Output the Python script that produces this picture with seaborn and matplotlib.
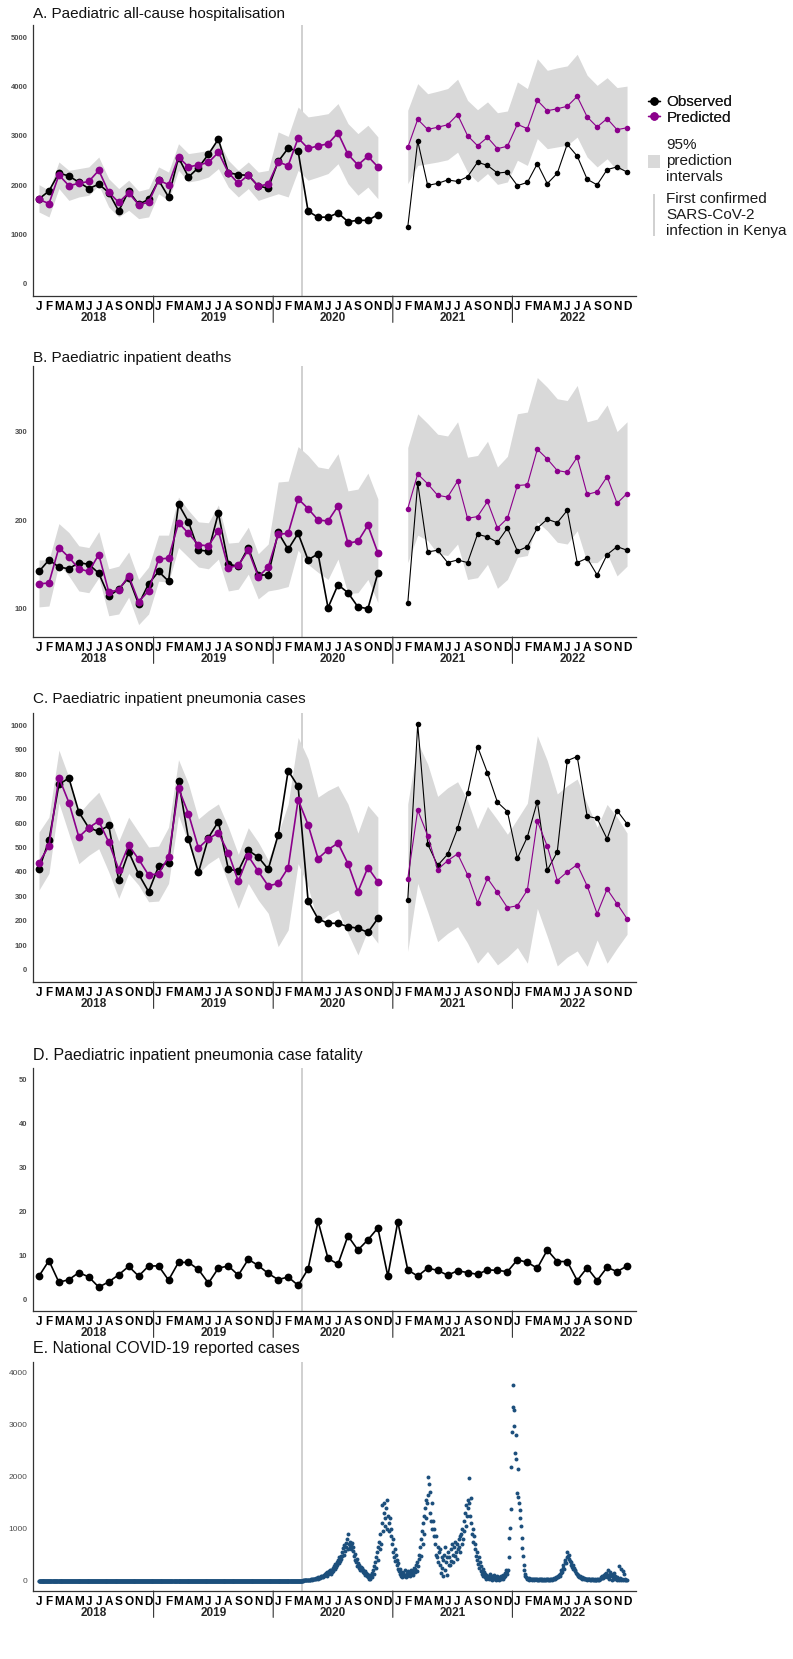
import numpy as np
import pandas as pd
import matplotlib
matplotlib.use("Agg")
import matplotlib.pyplot as plt
import seaborn as sns
from matplotlib.lines import Line2D
from matplotlib.patches import Patch

sns.set_theme(style="white")
plt.rcParams["font.family"] = ["Liberation Sans", "DejaVu Sans"]
FAMILY = ["Liberation Sans", "DejaVu Sans"]

nan = np.nan
PURPLE = "#8b008b"
RIBBON = "#d9d9d9"
VLINE = "#c8c8c8"
DOTS = "#1c4f7c"

month_letters = ["J", "F", "M", "A", "M", "J", "J", "A", "S", "O", "N", "D"]
year_labels = ["2018", "2019", "2020", "2021", "2022"]
first_case_date = "2020-03-13"

# A. all-cause hospitalisation (Jan 2018 - Dec 2022, gap Dec 2020 - Jan 2021)
hosp_observed = [1720, 1880, 2245, 2185, 2060, 1930, 2020, 1850, 1475, 1880, 1610, 1710,
                 2100, 1760, 2560, 2165, 2355, 2625, 2935, 2255, 2210, 2200, 1980, 1940,
                 2480, 2750, 2690, 1470, 1350, 1350, 1435, 1260, 1285, 1285, 1400, nan,
                 nan, 1150, 2895, 1995, 2035, 2105, 2075, 2170, 2465, 2400, 2245, 2265,
                 1990, 2055, 2435, 2030, 2240, 2830, 2590, 2120, 2005, 2315, 2370, 2265]
hosp_predicted = [1710, 1625, 2205, 1990, 2035, 2075, 2300, 1855, 1650, 1840, 1605, 1650,
                  2100, 2010, 2570, 2370, 2410, 2460, 2665, 2255, 2035, 2205, 1980, 2020,
                  2470, 2395, 2955, 2745, 2795, 2840, 3060, 2625, 2410, 2585, 2370, nan,
                  nan, 2765, 3335, 3130, 3175, 3225, 3430, 3005, 2800, 2970, 2740, 2790,
                  3235, 3145, 3720, 3510, 3550, 3600, 3800, 3385, 3180, 3350, 3125, 3165]
hosp_lower = [1455, 1355, 1930, 1690, 1760, 1795, 1995, 1555, 1355, 1490, 1320, 1355,
              1825, 1690, 2300, 2065, 2100, 2165, 2335, 1960, 1760, 1930, 1690, 1760,
              1825, 1760, 2300, 2100, 2165, 2235, 2435, 2030, 1795, 1960, 1725, nan,
              nan, 2030, 2400, 2435, 2470, 2515, 2670, 2265, 2065, 2235, 2015, 2065,
              2505, 2400, 2945, 2740, 2775, 2810, 2975, 2570, 2370, 2535, 2300, 2335]
hosp_upper = [2010, 1895, 2470, 2300, 2335, 2370, 2570, 2130, 1930, 2100, 1880, 1930,
              2370, 2265, 2840, 2640, 2670, 2705, 2910, 2505, 2300, 2470, 2265, 2300,
              3080, 2990, 3585, 3385, 3415, 3450, 3655, 3250, 3045, 3215, 2980, nan,
              nan, 3520, 4060, 3855, 3905, 3960, 4150, 3720, 3530, 3690, 3470, 3505,
              4095, 3960, 4565, 4330, 4380, 4420, 4655, 4230, 4025, 4180, 3980, 4010]

# B. inpatient deaths
deaths_observed = [142, 155, 147, 145, 152, 150, 140, 114, 122, 135, 105, 128,
                   142, 131, 218, 198, 166, 165, 208, 150, 148, 169, 138, 138,
                   186, 167, 185, 155, 162, 101, 127, 118, 102, 100, 140, nan,
                   nan, 106, 242, 164, 166, 152, 155, 152, 184, 181, 175, 191,
                   165, 170, 191, 201, 197, 211, 152, 157, 138, 161, 170, 166]
deaths_predicted = [128, 129, 169, 158, 145, 142, 161, 119, 121, 137, 108, 120,
                    156, 157, 197, 185, 172, 171, 188, 146, 149, 166, 136, 147,
                    184, 185, 224, 213, 200, 199, 216, 174, 176, 194, 163, nan,
                    nan, 213, 252, 241, 228, 226, 244, 202, 204, 221, 191, 202,
                    239, 240, 280, 269, 256, 254, 271, 229, 232, 249, 219, 230]
deaths_lower = [102, 103, 150, 137, 120, 118, 135, 92, 94, 113, 82, 94,
                131, 130, 169, 158, 147, 145, 156, 120, 122, 139, 111, 120,
                122, 125, 166, 150, 141, 133, 156, 117, 118, 133, 107, nan,
                nan, 152, 183, 177, 162, 160, 173, 133, 135, 150, 123, 133,
                158, 160, 198, 188, 175, 173, 188, 152, 152, 162, 137, 148]
deaths_upper = [155, 155, 196, 186, 171, 169, 187, 145, 148, 164, 133, 147,
                183, 183, 226, 211, 198, 197, 217, 174, 175, 192, 162, 173,
                243, 244, 283, 273, 260, 258, 275, 233, 235, 253, 224, nan,
                nan, 282, 320, 309, 297, 295, 311, 271, 273, 289, 260, 272,
                320, 322, 361, 350, 337, 335, 352, 311, 314, 330, 300, 311]

# C. inpatient pneumonia cases
pneu_observed = [411, 529, 758, 784, 645, 580, 566, 590, 366, 482, 391, 319,
                 423, 438, 772, 536, 398, 540, 606, 411, 404, 488, 461, 411,
                 552, 814, 750, 282, 208, 190, 190, 176, 170, 153, 210, nan,
                 nan, 285, 1004, 514, 427, 472, 578, 722, 913, 805, 685, 647,
                 456, 543, 688, 407, 482, 855, 872, 628, 619, 535, 651, 597]
pneu_predicted = [438, 506, 786, 684, 543, 581, 608, 522, 410, 509, 452, 387,
                  393, 461, 742, 638, 498, 536, 560, 478, 362, 465, 403, 343,
                  353, 417, 696, 593, 455, 491, 518, 434, 319, 418, 360, nan,
                  nan, 372, 653, 548, 410, 446, 474, 389, 274, 374, 316, 254,
                  262, 326, 608, 505, 365, 400, 430, 343, 229, 330, 270, 209]
pneu_lower = [326, 394, 682, 556, 434, 468, 495, 400, 292, 394, 346, 278,
              281, 353, 631, 516, 394, 434, 461, 353, 251, 353, 285, 231,
              95, 163, 434, 339, 190, 224, 244, 149, 61, 163, 109, nan,
              nan, 75, 353, 237, 115, 149, 176, 109, 27, 75, 20, 52,
              91, 27, 251, 136, 16, 52, 77, 14, 122, 27, 88, 145]
pneu_upper = [563, 624, 898, 787, 638, 685, 726, 638, 526, 624, 563, 502,
              506, 583, 859, 760, 617, 651, 678, 583, 472, 581, 522, 448,
              556, 678, 950, 862, 706, 733, 753, 678, 559, 672, 624, nan,
              nan, 678, 929, 841, 709, 744, 769, 692, 577, 668, 613, 554,
              617, 681, 957, 855, 719, 753, 780, 678, 583, 676, 624, 559]

# D. pneumonia case fatality (%)
cfr_observed = [5.4, 8.9, 4.0, 4.6, 6.2, 5.2, 2.9, 4.1, 5.7, 7.6, 5.4, 7.7,
                7.7, 4.5, 8.5, 8.5, 6.9, 3.8, 7.2, 7.7, 5.6, 9.2, 7.8, 6.0,
                4.6, 5.2, 3.3, 7.0, 17.8, 9.4, 8.1, 14.5, 11.3, 13.6, 16.3, 5.4,
                17.7, 6.8, 5.4, 7.2, 6.7, 5.6, 6.6, 6.2, 5.8, 6.8, 6.7, 6.4,
                9.1, 8.5, 7.2, 11.3, 8.7, 8.7, 4.4, 7.3, 4.4, 7.4, 6.4, 7.7]

# E. national COVID-19 cases, read every second day
cases_wave1_start = "2020-03-13"
cases_wave1 = [0, 1, 3, 2, 6, 4, 9, 5, 12, 8, 15, 10, 20, 13, 25,
               18, 30, 22, 40, 28, 35, 50, 30, 45, 60, 38, 55, 70, 45, 80,
               60, 95, 70, 110, 85, 130, 100, 150, 90, 160, 120, 180, 140, 200, 130,
               210, 160, 250, 190, 280, 230, 320, 260, 350, 300, 400, 340, 450, 380, 480,
               420, 550, 470, 620, 500, 680, 560, 720, 640, 800, 600, 890, 700, 650, 750,
               680, 600, 720, 560, 650, 480, 520, 400, 350, 420, 280, 330, 250, 300, 200,
               260, 200, 240, 170, 210, 150, 180, 110, 140, 90, 120, 60, 100, 40, 80,
               30, 110, 60, 150, 200, 120, 280, 350, 250, 450, 550, 400, 650, 750, 600,
               900, 700, 1100, 1450, 950, 1300, 1500, 1050, 1200, 1400, 1550, 1000, 1250, 1100, 950,
               1200, 850, 1000, 700, 550, 800, 450, 600, 380, 500, 300, 400, 220, 330, 180,
               120, 230, 90, 170, 60, 150, 110, 80, 200, 100, 60, 140, 90, 180, 120,
               150, 90, 200, 130, 180, 110, 250, 160, 220, 300, 190, 350, 280, 420, 500]
cases_wave2_start = "2021-03-08"
cases_wave2 = [650, 480, 800, 950, 700, 1100, 1250, 900, 1400, 1550, 1200, 1500, 2000, 1650, 1850,
               1700, 1300, 1150, 1500, 1000, 1150, 850, 1000, 700, 500, 850, 450, 650, 350, 550,
               300, 600, 150, 450, 250, 80, 400, 500, 200, 650, 350, 100, 450, 550, 300,
               450, 300, 600, 380, 700, 500, 350, 650, 480, 750, 550, 420, 700, 600, 800,
               650, 850, 550, 900, 700, 1000, 800, 1150, 950, 1300, 1050, 1450, 1250, 1550, 1400,
               1980, 1500, 1250, 1580, 1100, 900, 1000, 750, 850, 600, 700, 480, 550, 400, 320,
               450, 250, 350, 180, 280, 120, 220, 90, 160, 60, 130, 40, 100, 70, 50,
               90, 30, 60, 120, 40, 80, 20, 60, 100, 30, 50, 70, 20, 40, 80,
               30, 60, 20, 50, 90, 30, 70, 40, 110, 60, 150, 90, 200, 120, 180,
               200, 450, 810, 1020, 1370, 2180, 2860, 3755, 3330, 2970, 3280, 2450, 2800, 2340, 1680,
               2140, 1610, 1500, 1360, 1210, 1050, 810, 630, 470, 300, 200, 130, 90, 60, 50]
cases_wave3_start = "2022-02-01"
cases_wave3 = [40, 30, 50, 20, 40, 30, 20, 35, 25, 40, 20, 30, 25, 20, 30,
               20, 30, 15, 25, 20, 30, 18, 25, 20, 15, 30, 20, 25, 18, 22,
               20, 25, 15, 30, 20, 25, 35, 20, 40, 30, 50, 35, 60, 45, 70,
               80, 60, 100, 130, 90, 150, 200, 160, 250, 300, 220, 350, 400, 330, 450,
               550, 480, 420, 500, 380, 300, 350, 260, 300, 220, 250, 180, 200, 150, 130,
               120, 90, 100, 70, 80, 60, 50, 70, 40, 50, 30, 45, 35, 25, 40,
               30, 20, 35, 25, 30, 20, 25, 15, 30, 20, 25, 20, 15, 25, 20,
               20, 25, 15, 30, 20, 40, 30, 60, 45, 80, 50, 100, 70, 120, 90,
               150, 60, 200, 110, 40, 170, 90, 130, 20, 100, 60, 150, 30, 80, 50,
               40, 20, 60, 30, 10, 280, 50, 20, 230, 40, 10, 180, 130, 30, 20,
               10, 5]


def month_index(dates):
    d = pd.DatetimeIndex(dates)
    return np.asarray((d.year - 2018) * 12 + (d.month - 1) + (d.day - 1) / d.days_in_month)


def monthly_frame(observed, predicted, lower, upper):
    df = pd.DataFrame({"m": np.arange(60), "Observed": observed, "Predicted": predicted,
                       "lo": lower, "hi": upper})
    df["period"] = np.where(df["m"] < 36, "before", "after")
    return df


def draw_model_panel(ax, df):
    for period, msize, lw in [("before", 5.6, 1.2), ("after", 4.0, 0.8)]:
        seg = df[df["period"] == period].dropna()
        ax.fill_between(seg["m"], seg["lo"], seg["hi"], color=RIBBON, lw=0, zorder=1)
        sns.lineplot(data=seg, x="m", y="Observed", color="black", marker="o",
                     markersize=msize, markeredgewidth=0, linewidth=lw,
                     estimator=None, ax=ax, zorder=3)
        sns.lineplot(data=seg, x="m", y="Predicted", color=PURPLE, marker="o",
                     markersize=msize, markeredgewidth=0, linewidth=lw,
                     estimator=None, ax=ax, zorder=4)


def style_axes(ax, yticks, ylim, title, title_off, title_size=11, ysize=5.5, ybold=True):
    ax.set_xlim(-0.6, 59.9)
    ax.set_ylim(ylim)
    ax.set_xlabel("")
    ax.set_ylabel("")
    ax.set_xticks(np.arange(60))
    ax.set_xticklabels(month_letters * 5, fontsize=8.5, fontweight="bold", family=FAMILY)
    ax.set_yticks(yticks)
    ax.set_yticklabels([str(v) for v in yticks], fontsize=ysize,
                       fontweight="bold" if ybold else "normal", family=FAMILY)
    ax.tick_params(axis="x", length=2.5, width=0.6, pad=1, color="#333333", labelcolor="black")
    ax.tick_params(axis="y", length=2.5, width=0.6, pad=1.5, color="#333333", labelcolor="#4d4d4d")
    sns.despine(ax=ax)
    for side in ["left", "bottom"]:
        ax.spines[side].set_color("#333333")
        ax.spines[side].set_linewidth(0.9)
    ax.grid(False)
    ax.axvline(month_index([first_case_date])[0], color=VLINE, lw=1.2, zorder=0)
    for i, yr in enumerate(year_labels):
        ax.annotate(yr, xy=(5.5 + 12 * i, 0), xycoords=("data", "axes fraction"),
                    xytext=(0, -11.5), textcoords="offset points", ha="center", va="top",
                    fontsize=8.5, fontweight="bold", family=FAMILY)
    for b in [11.5, 23.5, 35.5, 47.5]:
        ax.annotate("", xy=(b, 0), xycoords=("data", "axes fraction"),
                    xytext=(0, -19), textcoords="offset points",
                    arrowprops=dict(arrowstyle="-", color="#333333", lw=0.8,
                                    shrinkA=0, shrinkB=0))
    ax.annotate(title, xy=(0, 1), xycoords="axes fraction", xytext=(0, title_off),
                textcoords="offset points", ha="left", va="center",
                fontsize=title_size, family=FAMILY, color="#111111")


W, H = 793, 1659
fig = plt.figure(figsize=(W / 100, H / 100), dpi=100)


def add_axes(top, bottom, left=33, width=603):
    return fig.add_axes([left / W, 1 - bottom / H, width / W, (bottom - top) / H])


# A
ax_a = add_axes(25, 296)
draw_model_panel(ax_a, monthly_frame(hosp_observed, hosp_predicted, hosp_lower, hosp_upper))
style_axes(ax_a, [0, 1000, 2000, 3000, 4000, 5000], (-250, 5250),
           "A. Paediatric all-cause hospitalisation", 8)

# B
ax_b = add_axes(366, 637)
draw_model_panel(ax_b, monthly_frame(deaths_observed, deaths_predicted, deaths_lower, deaths_upper))
style_axes(ax_b, [100, 200, 300], (68, 374), "B. Paediatric inpatient deaths", 6)

# C
ax_c = add_axes(713, 982)
draw_model_panel(ax_c, monthly_frame(pneu_observed, pneu_predicted, pneu_lower, pneu_upper))
style_axes(ax_c, list(range(0, 1001, 100)), (-50, 1050),
           "C. Paediatric inpatient pneumonia cases", 10)

# D
ax_d = add_axes(1068, 1311)
cfr = pd.DataFrame({"m": np.arange(60), "cfr": cfr_observed})
sns.lineplot(data=cfr, x="m", y="cfr", color="black", marker="o", markersize=5.6,
             markeredgewidth=0, linewidth=1.2, estimator=None, ax=ax_d, zorder=3)
style_axes(ax_d, [0, 10, 20, 30, 40, 50], (-2.5, 52.5),
           "D. Paediatric inpatient pneumonia case fatality", 9, title_size=11.5)

# E
ax_e = add_axes(1362, 1591)
pre_dates = pd.date_range("2018-01-01", "2020-03-12", freq="D")
segments = [pd.DataFrame({"date": pre_dates, "cases": [0] * len(pre_dates)})]
for start, vals in [(cases_wave1_start, cases_wave1), (cases_wave2_start, cases_wave2),
                    (cases_wave3_start, cases_wave3)]:
    segments.append(pd.DataFrame({"date": pd.date_range(start, periods=len(vals), freq="2D"),
                                  "cases": vals}))
covid = pd.concat(segments, ignore_index=True)
covid["m"] = month_index(covid["date"])
sns.scatterplot(data=covid, x="m", y="cases", color=DOTS, s=8, linewidth=0, ax=ax_e, zorder=3)
style_axes(ax_e, [0, 1000, 2000, 3000, 4000], (-200, 4200),
           "E. National COVID-19 reported cases", 10, title_size=11.5,
           ysize=6, ybold=False)

# legend beside panel A
h1 = [Line2D([0], [0], color="black", marker="o", markersize=5, lw=1),
      Line2D([0], [0], color=PURPLE, marker="o", markersize=5, lw=1)]
leg1 = fig.legend(h1, ["Observed", "Predicted"], loc="upper left",
                  bbox_to_anchor=(648 / W, 1 - 95 / H), frameon=False, fontsize=11,
                  handlelength=0.8, handletextpad=0.4, labelspacing=0.1,
                  borderpad=0, borderaxespad=0)
h2 = [Patch(facecolor=RIBBON, edgecolor="none"),
      Line2D([0], [0], color=VLINE, marker="|", markersize=30, markeredgewidth=1.2,
             linestyle="None")]
leg2 = fig.legend(h2, ["95%\nprediction\nintervals", "First confirmed\nSARS-CoV-2\ninfection in Kenya"],
                  loc="upper left", bbox_to_anchor=(648 / W, 1 - 138 / H), frameon=False,
                  fontsize=11, handlelength=0.8, handleheight=0.9, handletextpad=0.4,
                  labelspacing=0.5, borderpad=0, borderaxespad=0)
fig.add_artist(leg1)
for t in leg1.get_texts() + leg2.get_texts():
    t.set_color("#1a1a1a")

fig.savefig("out.png", dpi=100, facecolor="white")
